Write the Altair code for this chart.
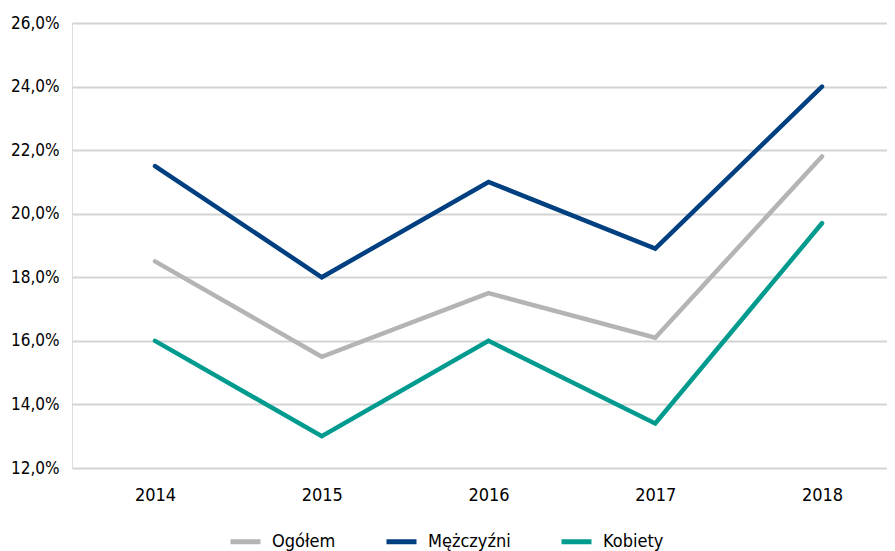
import altair as alt
import pandas as pd

years = [2014, 2015, 2016, 2017, 2018]
series_names = ["Ogółem", "Mężczyźni", "Kobiety"]
ogolem = [18.5, 15.5, 17.5, 16.1, 21.8]
mezczyzni = [21.5, 18.0, 21.0, 18.9, 24.0]
kobiety = [16.0, 13.0, 16.0, 13.4, 19.7]
colors = ["#b4b4b4", "#003f80", "#009b8e"]
y_ticks = [12, 14, 16, 18, 20, 22, 24, 26]

rows = []
for name, vals in zip(series_names, [ogolem, mezczyzni, kobiety]):
    for yr, v in zip(years, vals):
        rows.append({"Rok": yr, "Wartość": v, "Seria": name})
df = pd.DataFrame(rows)

FONT = "'DejaVu Sans Condensed', 'Liberation Sans Narrow', 'Roboto Condensed', Roboto, sans-serif"

chart = alt.Chart(df).mark_line(strokeWidth=4.5, strokeCap="round", strokeJoin="miter").encode(
    x=alt.X("Rok:Q",
            scale=alt.Scale(domain=[2013.502, 2018.39], nice=False, zero=False),
            axis=alt.Axis(values=years, format="d", title=None, grid=False, ticks=False,
                          domain=False, labelFontSize=18, labelPadding=18,
                          labelColor="#000000", labelFont=FONT)),
    y=alt.Y("Wartość:Q",
            scale=alt.Scale(domain=[12, 26], nice=False, zero=False),
            axis=alt.Axis(values=y_ticks, labelExpr="replace(format(datum.value, '.1f'), '.', ',') + '%'",
                          title=None, ticks=False, domain=False, labelFontSize=17,
                          labelPadding=13, labelColor="#000000", labelFont=FONT,
                          gridColor="#d4d4d4", gridWidth=2)),
    color=alt.Color("Seria:N", scale=alt.Scale(domain=series_names, range=colors),
                    sort=series_names,
                    legend=alt.Legend(title=None, orient="none", direction="horizontal",
                                      legendX=156, legendY=501, symbolType="stroke",
                                      symbolStrokeWidth=5, symbolSize=900,
                                      labelFontSize=18, labelFont=FONT, labelColor="#000000",
                                      columnPadding=40, labelOffset=9)),
    order=alt.Order("Rok:Q"),
).properties(
    width=815, height=445,
    autosize=alt.AutoSizeParams(type="none"),
    padding={"left": 64, "top": 15, "right": 0, "bottom": 83},
).configure_view(stroke=None).configure(background="#ffffff")

chart.save("out.html", embed_options={"renderer": "svg", "actions": False})
